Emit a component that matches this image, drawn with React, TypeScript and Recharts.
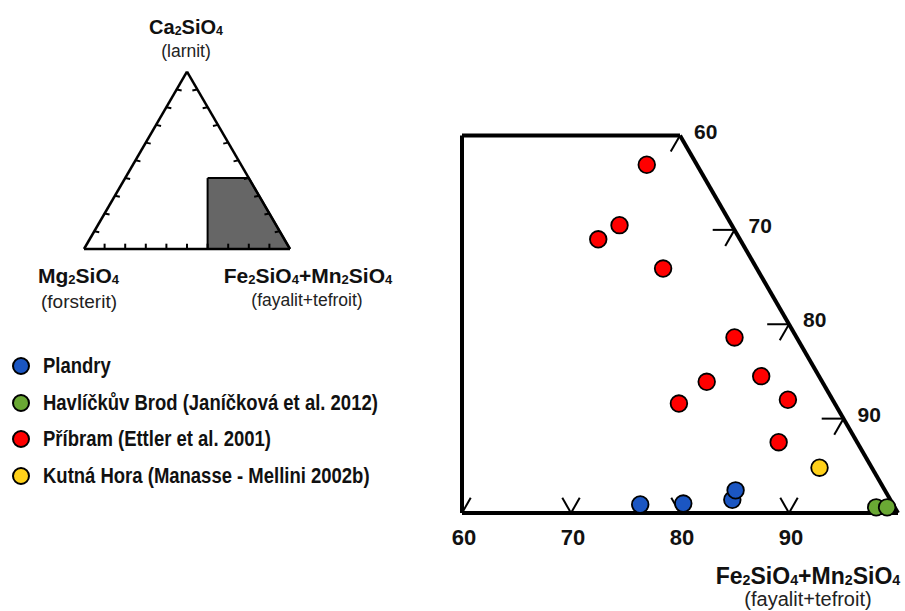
import * as React from 'react';
import {
  ScatterChart,
  ComposedChart,
  Scatter,
  Area,
  XAxis,
  YAxis,
  ReferenceLine,
  ReferenceDot,
} from 'recharts';

// ternary compositions in %: fe = Fe2SiO4+Mn2SiO4, ca = Ca2SiO4 (rest is Mg2SiO4)
const plandry = [
  { fe: 75.9, ca: 0.9 },
  { fe: 79.8, ca: 1.0 },
  { fe: 84.1, ca: 1.4 },
  { fe: 83.9, ca: 2.4 },
];
const havlickuvBrod = [
  { fe: 97.7, ca: 0.6 },
  { fe: 98.7, ca: 0.6 },
];
const pribram = [
  { fe: 58.5, ca: 36.9 },
  { fe: 59.2, ca: 30.5 },
  { fe: 58.0, ca: 29.0 },
  { fe: 65.5, ca: 25.9 },
  { fe: 75.7, ca: 18.6 },
  { fe: 80.2, ca: 14.5 },
  { fe: 75.5, ca: 13.9 },
  { fe: 83.9, ca: 12.0 },
  { fe: 74.1, ca: 11.6 },
  { fe: 85.3, ca: 7.5 },
];
const kutnaHora = [{ fe: 90.4, ca: 4.8 }];

const FE_TICKS = [60, 70, 80, 90];
const TRI_TICKS = [10, 20, 30, 40, 50, 60, 70, 80, 90];
// the enlarged window: starts at 60 on the base, Ca2SiO4 up to 40 %
const WIN_MIN = 60;
const WIN_CA = 40;

const SQ = Math.sqrt(3) / 2;
const toXY = (p: { fe: number; ca: number }) => ({ x: p.fe + p.ca / 2, y: p.ca * SQ });

const FONT = "'Liberation Sans', Arial, sans-serif";

const series = [
  { name: 'Plandry', data: plandry, color: '#1b56c2' },
  { name: 'Havlíčkův Brod (Janíčková et al. 2012)', data: havlickuvBrod, color: '#6aa834' },
  { name: 'Příbram (Ettler et al. 2001)', data: pribram, color: '#ff0000' },
  { name: 'Kutná Hora (Manasse - Mellini 2002b)', data: kutnaHora, color: '#ffd11a' },
];

const dot = (color: string) => (props: any) => (
  <circle cx={props.cx} cy={props.cy} r={8.3} fill={color} stroke="#000" strokeWidth={1.8} />
);

const Sub = ({ children }: { children: React.ReactNode }) => (
  <span style={{ fontSize: '0.62em', verticalAlign: '-0.08em' }}>{children}</span>
);

const Formula = () => (
  <>
    Fe<Sub>2</Sub>SiO<Sub>4</Sub>+Mn<Sub>2</Sub>SiO<Sub>4</Sub>
  </>
);

const BottomTick = (props: any) => (
  <text x={props.x + 2} y={props.y + 24} textAnchor="middle" fontFamily={FONT} fontWeight="bold" fontSize={22} fill="#111">
    {props.payload.value}
  </text>
);

const seg = (a: { x: number; y: number }, b: { x: number; y: number }, w: number, key: string) => (
  <ReferenceLine key={key} segment={[a, b]} stroke="#000" strokeWidth={w} ifOverflow="visible" />
);

function TernaryZoom() {
  const top = WIN_CA * SQ;
  const apex = { x: 50 + WIN_MIN / 2, y: (100 - WIN_MIN) * SQ };
  const lines = [
    seg({ x: WIN_MIN, y: 0 }, { x: WIN_MIN, y: top }, 4, 'l'),
    seg({ x: WIN_MIN, y: top }, apex, 4, 't'),
    seg(apex, { x: 100, y: 0 }, 4, 'r'),
    seg({ x: WIN_MIN, y: 0 }, { x: 100, y: 0 }, 4, 'b'),
  ];
  FE_TICKS.forEach((v) => {
    if (v > WIN_MIN) lines.push(seg({ x: v, y: 0 }, { x: v - 0.8, y: 1.39 }, 2, `bl${v}`));
    lines.push(seg({ x: v, y: 0 }, { x: v + 0.8, y: 1.39 }, 2, `br${v}`));
    const p = { x: 50 + v / 2, y: (100 - v) * SQ };
    if (v > WIN_MIN) lines.push(seg(p, { x: p.x - 2, y: p.y }, 2, `sh${v}`));
    lines.push(seg(p, { x: p.x - 0.85, y: p.y - 1.47 }, 2, `sd${v}`));
  });

  return (
    <ScatterChart width={465} height={511} margin={{ top: 35.5, right: 7, bottom: 68, left: 22 }}>
      <XAxis
        type="number"
        dataKey="x"
        domain={[WIN_MIN, 100]}
        ticks={FE_TICKS}
        axisLine={false}
        tickLine={false}
        height={30}
        tick={<BottomTick />}
      />
      <YAxis type="number" dataKey="y" domain={[0, WIN_CA * SQ]} hide />
      {lines}
      {FE_TICKS.map((v) => (
        <ReferenceDot
          key={`lab${v}`}
          x={50 + v / 2}
          y={(100 - v) * SQ}
          r={0}
          ifOverflow="visible"
          shape={(p: any) => (
            <text x={p.cx + 14} y={p.cy + 3} fontFamily={FONT} fontWeight="bold" fontSize={21} fill="#111">
              {v}
            </text>
          )}
        />
      ))}
      {series.map((s) => (
        <Scatter key={s.name} name={s.name} data={s.data.map(toXY)} shape={dot(s.color)} isAnimationActive={false} />
      ))}
    </ScatterChart>
  );
}

function TernaryKey() {
  const h = 100 * SQ;
  const shade = [
    { x: WIN_MIN, y: WIN_CA * SQ },
    { x: 50 + WIN_MIN / 2, y: WIN_CA * SQ },
    { x: 100, y: 0 },
  ];
  const lines = [
    seg({ x: 0, y: 0 }, { x: 100, y: 0 }, 2.5, 'b'),
    seg({ x: 0, y: 0 }, { x: 50, y: h }, 2.5, 'l'),
    seg({ x: 50, y: h }, { x: 100, y: 0 }, 2.5, 'r'),
    seg({ x: WIN_MIN, y: 0 }, { x: WIN_MIN, y: WIN_CA * SQ }, 2, 'v'),
  ];
  TRI_TICKS.forEach((t) => {
    lines.push(seg({ x: t, y: 0 }, { x: t, y: 2.6 }, 2, `tb${t}`));
    lines.push(seg({ x: t / 2, y: t * SQ }, { x: t / 2 + 2.4, y: t * SQ - 0.5 }, 2, `tl${t}`));
    lines.push(seg({ x: 100 - t / 2, y: t * SQ }, { x: 100 - t / 2 - 2.4, y: t * SQ - 0.5 }, 2, `tr${t}`));
  });
  return (
    <ComposedChart width={230} height={200} data={shade} margin={{ top: 11.7, right: 10, bottom: 11, left: 14 }}>
      <XAxis type="number" dataKey="x" domain={[0, 100]} hide />
      <YAxis type="number" dataKey="y" domain={[0, h]} hide />
      <Area
        type="linear"
        dataKey="y"
        baseValue={0}
        fill="#666666"
        fillOpacity={1}
        stroke="#000"
        strokeWidth={2}
        isAnimationActive={false}
      />
      {lines}
    </ComposedChart>
  );
}

const abs = (left: number, top: number, extra: React.CSSProperties = {}): React.CSSProperties => ({
  position: 'absolute',
  left,
  top,
  whiteSpace: 'nowrap',
  lineHeight: 1,
  ...extra,
});

export default function App() {
  const bold: React.CSSProperties = { fontWeight: 'bold', fontSize: 21, color: '#111' };
  const sub: React.CSSProperties = { fontSize: 18, color: '#222' };
  return (
    <div style={{ position: 'absolute', left: 0, top: 0, width: 905, height: 611, background: '#fff', fontFamily: FONT }}>
      <div style={{ position: 'absolute', left: 70, top: 60 }}>
        <TernaryKey />
      </div>
      <div style={{ position: 'absolute', left: 440, top: 100 }}>
        <TernaryZoom />
      </div>

      <div style={abs(126, 17, { ...bold, fontSize: 20, width: 120, textAlign: 'center' })}>
        Ca<Sub>2</Sub>SiO<Sub>4</Sub>
      </div>
      <div style={abs(126, 43, { ...sub, fontSize: 17.5, width: 120, textAlign: 'center' })}>(larnit)</div>

      <div style={abs(38, 265, bold)}>
        Mg<Sub>2</Sub>SiO<Sub>4</Sub>
      </div>
      <div style={abs(41, 292, { ...sub, fontSize: 19 })}>(forsterit)</div>

      <div style={abs(208, 265, { ...bold, width: 200, textAlign: 'center' })}>
        <Formula />
      </div>
      <div style={abs(207, 292, { ...sub, fontSize: 17.5, width: 200, textAlign: 'center' })}>(fayalit+tefroit)</div>

      <div style={abs(698, 565, { ...bold, fontSize: 23, width: 220, textAlign: 'center' })}>
        <Formula />
      </div>
      <div style={abs(698, 589, { ...sub, fontSize: 20, width: 220, textAlign: 'center' })}>(fayalit+tefroit)</div>

      {series.map((s, i) => (
        <div key={s.name} style={abs(11, 355 + i * 36.7, { display: 'flex', alignItems: 'center' })}>
          <svg width={20} height={20}>
            <circle cx={10} cy={10} r={8} fill={s.color} stroke="#000" strokeWidth={2} />
          </svg>
          <span
            style={{
              marginLeft: 12,
              display: 'inline-block',
              fontWeight: 'bold',
              fontSize: 22,
              color: '#111',
              transform: 'scaleX(0.84)',
              transformOrigin: 'left center',
            }}
          >
            {s.name}
          </span>
        </div>
      ))}
    </div>
  );
}
